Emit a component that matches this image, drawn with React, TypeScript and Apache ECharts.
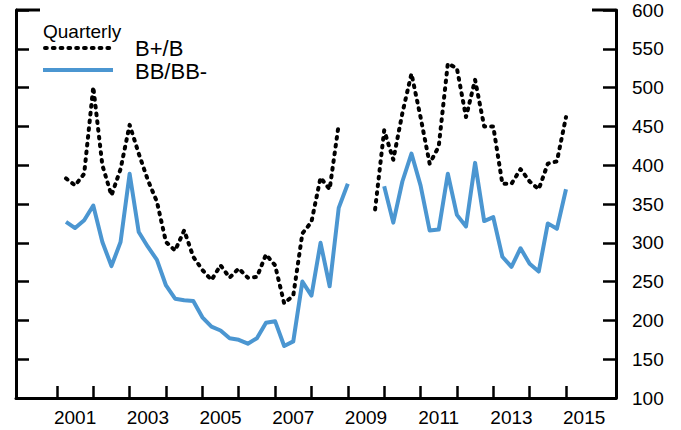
import React, { useEffect, useRef } from "react";
import * as echarts from "echarts";

const years = [2001, 2002, 2003, 2004, 2005, 2006, 2007, 2008, 2009, 2010, 2011, 2012, 2013, 2014];
const quarterLabels = years.flatMap((y) => ["Q1", "Q2", "Q3", "Q4"].map((q) => `${y}${q}`));

// B+/B spreads, quarterly (basis points)
const bPlusB: (number | null)[] = [
  383, 374, 389, 501,
  400, 361, 395, 452,
  415, 381, 353, 301,
  290, 316, 282, 265,
  252, 271, 255, 267,
  255, 256, 285, 271,
  222, 232, 312, 327,
  384, 369, 453, null,
  null, null, 343, 445,
  407, 467, 518, 462,
  402, 424, 531, 525,
  462, 510, 450, 450,
  376, 376, 395, 379,
  369, 402, 405, 462,
];

// BB/BB- spreads, quarterly (basis points)
const bbBBminus: (number | null)[] = [
  327, 319, 329, 348,
  301, 270, 301, 389,
  314, 295, 278, 245,
  228, 226, 225, 204,
  192, 187, 177, 175,
  170, 177, 197, 199,
  167, 173, 250, 232,
  300, 244, 345, 376,
  null, null, null, 373,
  326, 379, 415, 374,
  316, 317, 389, 336,
  321, 403, 328, 333,
  282, 269, 293, 273,
  263, 325, 318, 369,
];

const xTickYears = [2001, 2002, 2003, 2004, 2005, 2006, 2007, 2008, 2009, 2010, 2011, 2012, 2013, 2014, 2015];
const xLabelYears = [2001, 2003, 2005, 2007, 2009, 2011, 2013, 2015];
const yMin = 100;
const yMax = 600;
const yStep = 50;

const legendTitle = "Quarterly";
const seriesNames = ["B+/B", "BB/BB-"];

const BLUE = "#4b96d1";
const FONT = "'Liberation Sans', Arial, sans-serif";
const DOTS = [1.8, 6];

function quarterPos(label: string): number {
  const y = Number(label.slice(0, 4));
  const q = Number(label.slice(5));
  return y + q / 4; // plotted at end of quarter
}

function toPairs(values: (number | null)[]) {
  return quarterLabels.map((lab, i) => [quarterPos(lab), values[i] == null ? "-" : values[i]]);
}

export default function App() {
  const ref = useRef<HTMLDivElement>(null);

  useEffect(() => {
    if (!ref.current) return;
    const chart = echarts.init(ref.current, undefined, { renderer: "svg" });

    const yAxisCommon = {
      type: "value",
      min: yMin,
      max: yMax,
      interval: yStep,
      splitLine: { show: false },
      axisLine: { show: true, lineStyle: { color: "#000", width: 3 } },
      axisTick: { show: true, inside: true, length: 13, lineStyle: { color: "#000", width: 2.5 } },
    };

    chart.setOption({
      animation: false,
      textStyle: { fontFamily: FONT, color: "#000" },
      grid: { left: 16, right: 65, top: 10, bottom: 32, containLabel: false },
      xAxis: {
        type: "value",
        min: 1999.875,
        max: 2016.375,
        splitLine: { show: false },
        axisLine: { show: true, onZero: false, lineStyle: { color: "#000", width: 3 } },
        axisTick: {
          show: true,
          inside: true,
          length: 12,
          customValues: xTickYears,
          lineStyle: { color: "#000", width: 2.5 },
        },
        axisLabel: {
          show: true,
          customValues: xLabelYears.map((y) => y + 0.5),
          formatter: (v: number) => String(Math.floor(v)),
          fontSize: 19,
          color: "#000",
          fontFamily: FONT,
          margin: 10,
        },
      },
      yAxis: [
        {
          ...yAxisCommon,
          position: "right",
          axisLabel: { show: true, fontSize: 19, color: "#000", fontFamily: FONT, margin: 16 },
        },
        {
          ...yAxisCommon,
          position: "left",
          axisLabel: { show: false },
        },
      ],
      graphic: [
        { type: "line", shape: { x1: 16, y1: 10, x2: 40, y2: 10 }, style: { stroke: "#000", lineWidth: 3 } },
        { type: "line", shape: { x1: 592, y1: 10, x2: 616, y2: 10 }, style: { stroke: "#000", lineWidth: 3 } },
        {
          type: "text",
          x: 43,
          y: 31,
          style: { text: legendTitle, fontSize: 19, fontFamily: FONT, fill: "#000", verticalAlign: "middle" },
        },
        {
          type: "line",
          shape: { x1: 45, y1: 48, x2: 112, y2: 48 },
          style: { stroke: "#000", lineWidth: 4, lineDash: DOTS, lineCap: "round" },
        },
        {
          type: "text",
          x: 135,
          y: 48,
          style: { text: seriesNames[0], fontSize: 22, fontFamily: FONT, fill: "#000", verticalAlign: "middle" },
        },
        {
          type: "line",
          shape: { x1: 43, y1: 70, x2: 113, y2: 70 },
          style: { stroke: BLUE, lineWidth: 4 },
        },
        {
          type: "text",
          x: 135,
          y: 71,
          style: { text: seriesNames[1], fontSize: 22, fontFamily: FONT, fill: "#000", verticalAlign: "middle" },
        },
      ],
      series: [
        {
          name: seriesNames[1],
          type: "line",
          yAxisIndex: 0,
          data: toPairs(bbBBminus),
          showSymbol: false,
          connectNulls: false,
          lineStyle: { color: BLUE, width: 4, join: "round" },
          itemStyle: { color: BLUE },
          z: 2,
        },
        {
          name: seriesNames[0],
          type: "line",
          yAxisIndex: 0,
          data: toPairs(bPlusB),
          showSymbol: false,
          connectNulls: false,
          lineStyle: { color: "#000", width: 4, type: DOTS, cap: "round", join: "round" },
          itemStyle: { color: "#000" },
          z: 3,
        },
      ],
    });

    return () => chart.dispose();
  }, []);

  return (
    <div
      ref={ref}
      style={{ position: "fixed", left: 0, top: 0, width: 681, height: 430, background: "#fff" }}
    />
  );
}
